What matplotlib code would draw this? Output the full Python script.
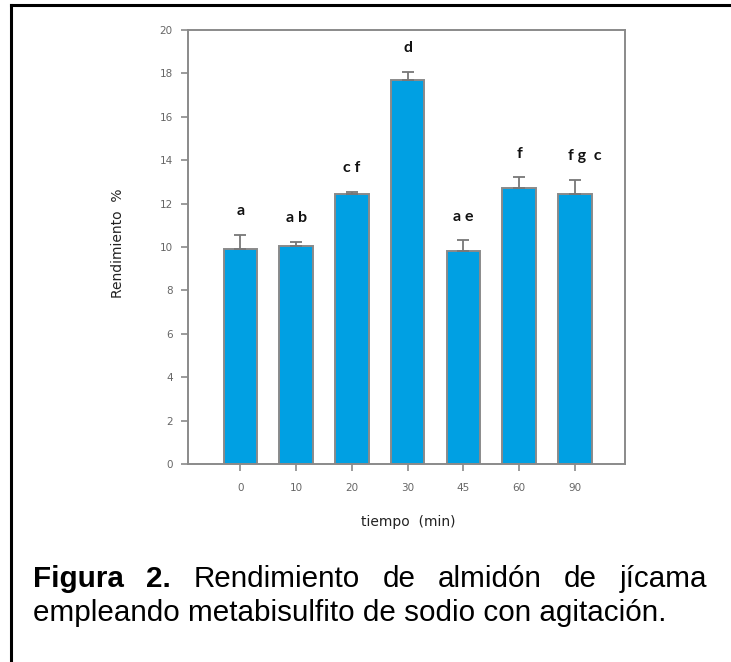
import numpy as np
import matplotlib
matplotlib.use("Agg")
import matplotlib.pyplot as plt
from matplotlib.lines import Line2D

# datos
tiempos = ["0", "10", "20", "30", "45", "60", "90"]
rendimiento = [9.9, 10.06, 12.46, 17.68, 9.83, 12.73, 12.43]
error = [0.65, 0.18, 0.09, 0.40, 0.48, 0.48, 0.66]
letras = ["a", "a b", "c f", "d", "a e", "f", "f g  c"]
yticks = [0, 2, 4, 6, 8, 10, 12, 14, 16, 18, 20]

W, H = 731, 662
fig = plt.figure(figsize=(W / 100, H / 100), dpi=100)

# marco exterior (solo arriba e izquierda visibles)
fig.add_artist(Line2D([11 / W, 1.0], [1 - 5 / H, 1 - 5 / H], color="black", lw=2.2, transform=fig.transFigure))
fig.add_artist(Line2D([11 / W, 11 / W], [0, 1 - 5 / H], color="black", lw=2.2, transform=fig.transFigure))

ax = fig.add_axes([188 / W, (H - 464) / H, (625 - 188) / W, (464 - 30) / H])
x = np.arange(len(tiempos))
ax.bar(x, rendimiento, width=0.6, color="#00A0E3", edgecolor="#8a8a8a", linewidth=1.4, zorder=2)
ax.errorbar(x, rendimiento, yerr=[np.zeros(len(error)), error], fmt="none",
            ecolor="#777777", elinewidth=1.3, capsize=4, capthick=1.3, zorder=3)

dx = [0, 0, 0, 0, 0, 0, 7]
for i, txt in enumerate(letras):
    ax.annotate(txt, (x[i], rendimiento[i] + error[i]), xytext=(dx[i], 17),
                textcoords="offset points", ha="center", va="center",
                fontsize=11.5, fontweight="bold", family="Lato", color="#111111")

ax.set_xlim(-0.94, 6.9)
ax.set_ylim(0, 20)
ax.set_yticks(yticks)
ax.set_xticks(x)
ax.set_xticklabels(tiempos)
for s in ax.spines.values():
    s.set_color("#8a8a8a")
    s.set_linewidth(1.4)
ax.tick_params(axis="both", direction="out", length=5, width=1.2, color="#8a8a8a",
               labelsize=7.5, labelcolor="#666666", pad=6)
ax.tick_params(axis="x", pad=9)

fig.text(118 / W, 1 - 243 / H, "Rendimiento  %", rotation=90, ha="center", va="center",
         fontsize=10, color="#222222")
fig.text(408 / W, 1 - 522 / H, "tiempo  (min)", ha="center", va="center",
         fontsize=10, color="#222222")

# pie de figura justificado
fs = 21.3
linea1 = [("Figura", "bold"), ("2.", "bold"), ("Rendimiento", "normal"), ("de", "normal"),
          ("almidón", "normal"), ("de", "normal"), ("jícama", "normal")]
fig.canvas.draw()
r = fig.canvas.get_renderer()
textos = []
for w, wt in linea1:
    t = fig.text(0, 1 - 587 / H, w, fontsize=fs, fontweight=wt, family="Liberation Sans",
                 ha="left", va="baseline")
    textos.append(t)
anchos = [t.get_window_extent(r).width for t in textos]
izq, der = 33, 707
hueco = (der - izq - sum(anchos)) / (len(textos) - 1)
pos = izq
for t, a in zip(textos, anchos):
    t.set_x(pos / W)
    pos += a + hueco
fig.text(33 / W, 1 - 621 / H, "empleando metabisulfito de sodio con agitación.", fontsize=fs,
         family="Liberation Sans", ha="left", va="baseline")

fig.savefig("out.png", dpi=100)
